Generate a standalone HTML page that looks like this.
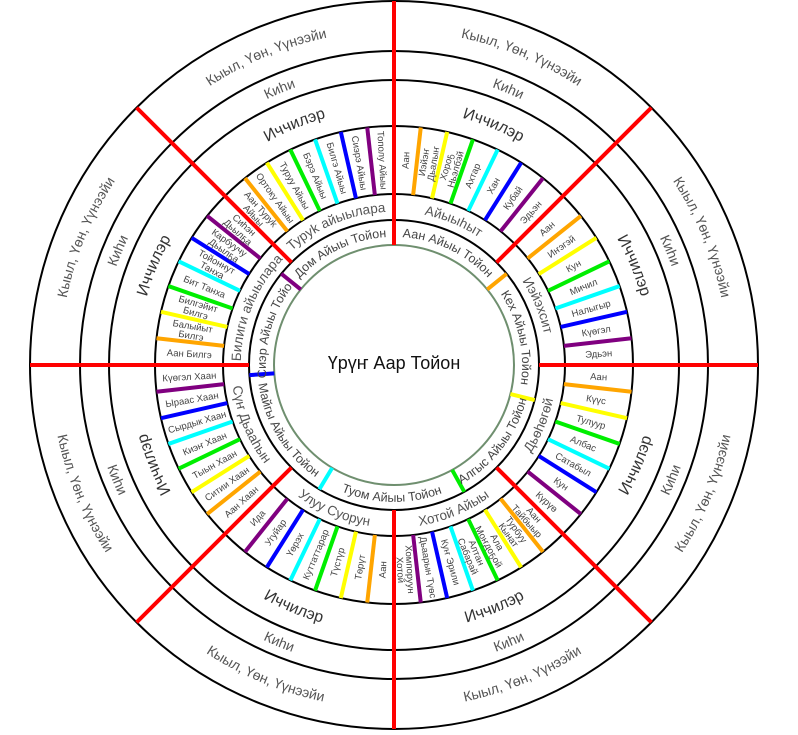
<!DOCTYPE html>
<html><head><meta charset="utf-8"><style>
html,body{margin:0;padding:0;background:#fff;}
svg{display:block;font-family:"Liberation Sans","DejaVu Sans",sans-serif;}
</style></head><body>
<svg id="chart" width="798" height="735" viewBox="0 0 798 735">
<defs id="defs"></defs>
<g id="rings"></g>
<g id="marks"></g>
<g id="labels"></g>
<text x="394" y="364" text-anchor="middle" dominant-baseline="middle" font-size="18" fill="#111">Үрүҥ Аар Тойон</text>
</svg>
<script>
const sectorItems = [
 ["Аан","Иэйэҥ|Дьалыҥ","Хороҕ|Ньэлбэй","Ахтар","Хан","Кубай","Эдьэн"],
 ["Аан","Иҥэгэй","Кун","Мичил","Налыгыр","Күөгэл","Эдьэн"],
 ["Аан","Күүс","Тулуур","Албас","Сатабыл","Кун","Күрүө"],
 ["Аан|Тайбыыр","Турбуу|Кынат","Ала|Моҥдоҕой","Алтан|Сабарай","Куҥ Эрили","Дьаарын Түөс","Хомпоруун|Хотой"],
 ["Аан","Төрүт","Түстүр","Куттаттарар","Үөрэх","Угуйар","Ида"],
 ["Аан Хаан","Ситии Хаан","Тыын Хаан","Киэҥ Хаан","Сырдык Хаан","Ыраас Хаан","Күөгэл Хаан"],
 ["Аан Билгэ","Балыйыт|Билгэ","Билгэйит|Билгэ","Бит Танха","Тойоннут|Танха","Карбуучу|Дьылҕа","Сиһэн|Дьылҕа"],
 ["Аан Туруk|Айыы","Ортоку Айыы","Туруу Айыы","Бэрэ Айыы","Билгэ Айыы","Сиэрэ Айыы","Тополу Айыы"]
];
const groupLabels = ["Айыыһыт","Иэйэхсит","Дьөһөгөй","Хотой Айыы","Улуу Суорун","Сүҥ Дьааһын","Билиги айыылара","Туруk айыылара"];
const innerLabels = ["Аан Айыы Тойон","Кех Айыы Тойон","Алгыс Айыы Тойон","Туом Айыы Тойон","Майгы Айыы Тойон","Сиэр Айыы Тойон","Дом Айыы Тойон"];
const innerTicks = [0,51,104,151,211,266,309,360];
const barColors = ["#ffa500","#ffff00","#00ee00","#00ffff","#0000ff","#800080"];
const outerLabel = "Кыыл, Үөн, Үүнээйи";
const humanLabel = "Киһи";
const spiritLabel = "Иччилэр";

const NS="http://www.w3.org/2000/svg", cx=394, cy=365;
const R={green:120,c1:145,c2:171,c3:239,c4:285,c5:314,c6:364};
function pt(b,r){const a=b*Math.PI/180;return [cx+r*Math.sin(a),cy-r*Math.cos(a)];}
function mk(tag,attrs,parent){const e=document.createElementNS(NS,tag);for(const k in attrs)e.setAttribute(k,attrs[k]);parent.appendChild(e);return e;}
const defs=document.getElementById('defs'),rings=document.getElementById('rings'),marks=document.getElementById('marks'),labels=document.getElementById('labels');
let pid=0;
function arcText(b1,b2,rMid,txt,fs,fill,name,forceCw){
  const mid=(b1+b2)/2; const ccw=!forceCw && mid>90 && mid<270;
  const r= ccw? rMid+fs*0.35 : rMid-fs*0.35;
  const id='p'+(pid++); let d;
  if(!ccw){const p1=pt(b1,r),p2=pt(b2,r);d=`M${p1[0]},${p1[1]} A${r},${r} 0 0 1 ${p2[0]},${p2[1]}`;}
  else{const p1=pt(b2,r),p2=pt(b1,r);d=`M${p1[0]},${p1[1]} A${r},${r} 0 0 0 ${p2[0]},${p2[1]}`;}
  mk('path',{id:id,d:d,fill:'none'},defs);
  const t=mk('text',{'font-size':fs,fill:fill,'text-anchor':'middle'},labels);
  
  
  const tp=mk('textPath',{href:'#'+id,startOffset:'50%'},t); tp.textContent=txt;
}
// circles
[R.c1,R.c2,R.c3,R.c4,R.c5,R.c6].forEach((r,i)=>{
  const c=mk('circle',{cx:cx,cy:cy,r:r,fill:'none',stroke:'#000','stroke-width':2},rings);
  
  
});
const gc=mk('circle',{cx:cx,cy:cy,r:R.green,fill:'none',stroke:'#6f8f6f','stroke-width':2},rings);


// item bars and labels
sectorItems.forEach((items,s)=>{
  const b0=s*45, step=45/items.length;
  for(let k=1;k<items.length;k++){
    const b=b0+k*step,p1=pt(b,R.c2),p2=pt(b,R.c3);
    const l=mk('line',{x1:p1[0],y1:p1[1],x2:p2[0],y2:p2[1],stroke:barColors[k-1],'stroke-width':4},marks);
    
    
  }
  items.forEach((it,k)=>{
    const b=b0+(k+0.5)*step, rm=(R.c2+R.c3)/2, p=pt(b,rm);
    const rot= b>180 ? b+90 : b-90;
    const lines=it.split('|');
    const t=mk('text',{x:p[0],y:p[1],'font-size':9.5,fill:'#444','text-anchor':'middle',transform:`rotate(${rot} ${p[0]} ${p[1]})`},labels);
    
    
    lines.forEach((ln,j)=>{const ts=mk('tspan',{x:p[0],y:p[1]+3.5+(j-(lines.length-1)/2)*9.5},t);ts.textContent=ln;});
  });
  arcText(b0,b0+45,(R.c1+R.c2)/2,groupLabels[s],13.5,'#555','group-label');
  arcText(b0,b0+45,(R.c3+R.c4)/2,spiritLabel,16,'#333','spirits-label', s===5);
  arcText(b0,b0+45,(R.c4+R.c5)/2,humanLabel,14,'#555','human-label');
  arcText(b0,b0+45,(R.c5+R.c6)/2,outerLabel,14,'#555','outer-label');
});
// inner ring ticks and labels
for(let i=0;i<innerLabels.length;i++){
  const a=innerTicks[i],b=innerTicks[i+1];
  if(i>0){const p1=pt(a,R.green),p2=pt(a,R.c1);
    const l=mk('line',{x1:p1[0],y1:p1[1],x2:p2[0],y2:p2[1],stroke:barColors[i-1],'stroke-width':4},marks);
    
    }
  arcText(a,b,(R.green+R.c1)/2,innerLabels[i],12.5,'#444','inner-label');
}
// red dividers
for(let s=0;s<8;s++){
  const b=s*45,p1=pt(b,s===0?R.green:R.c1),p2=pt(b,R.c6);
  const l=mk('line',{x1:p1[0],y1:p1[1],x2:p2[0],y2:p2[1],stroke:'#ff0000','stroke-width':4},marks);
  
  
}
</script>
</body></html>
